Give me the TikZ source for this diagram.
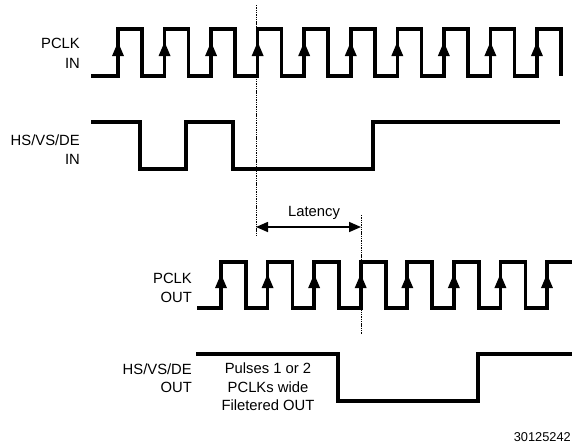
\documentclass[tikz,border=0pt]{standalone}
\usepackage{fontspec}
\setmainfont{Liberation Sans}
\usetikzlibrary{arrows.meta}
\begin{document}
\begin{tikzpicture}[x=1pt,y=-1pt,
  wave/.style={line width=3.6pt,line join=miter,black},
  guide/.style={line width=0.9pt,dash pattern=on 1.4pt off 0.9pt},
  lbl/.style={inner sep=0pt,anchor=east,font=\fontsize{14.8}{18}\selectfont},
  txt/.style={inner sep=0pt,font=\fontsize{14.8}{18.5}\selectfont},
  rise/.style={fill=black}]
\useasboundingbox (0,0) rectangle (573,445);
% PCLK IN
\draw[wave] (91,76) \foreach \i in {0,...,9} { -- ({118+46.55*\i},76) -- ({118+46.55*\i},29) -- ({142+46.55*\i},29) -- ({142+46.55*\i},76) };
\foreach \i in {0,...,9} \fill[rise] ({118+46.55*\i-6},56) -- ({118+46.55*\i+6},56) -- ({118+46.55*\i},42) -- cycle;
\node[lbl] (pclkin1) at (80,43) {PCLK};
\node[lbl] (pclkin2) at (80,63) {IN};
% HS IN
\draw[wave] (91,122) -- (140,122) -- (140,169) -- (186,169) -- (186,122) -- (233,122) -- (233,169) -- (373,169) -- (373,122) -- (560,122);
\node[lbl] (hsin1) at (80,140) {HS/VS/DE};
\node[lbl] (hsin2) at (80,159) {IN};
% PCLK OUT
\draw[wave] (197,308) \foreach \i in {0,...,6} { -- ({221+46.57*\i},308) -- ({221+46.57*\i},262) -- ({246+46.57*\i},262) -- ({246+46.57*\i},308) } -- (547,308) -- (547,262) -- (572,262);
\foreach \i in {0,...,7} \fill[rise] ({221+46.57*\i-6},288) -- ({221+46.57*\i+6},288) -- ({221+46.57*\i},274) -- cycle;
\node[lbl] (pclkout1) at (192,278) {PCLK};
\node[lbl] (pclkout2) at (192,297) {OUT};
% HS OUT
\draw[wave] (196,354) -- (338,354) -- (338,401) -- (478,401) -- (478,354) -- (572,354);
\node[lbl] (hsout1) at (192,369) {HS/VS/DE};
\node[lbl] (hsout2) at (192,387) {OUT};
\node[txt,align=center] (note) at (268,387) {Pulses 1 or 2\\PCLKs wide\\Filetered OUT};
% guides
\coordinate (g1top) at (256,5);
\coordinate (g1bot) at (256,237);
\coordinate (g2top) at (361,215);
\coordinate (g2bot) at (361,334);
\draw[guide] (g1top) -- (g1bot);
\draw[guide] (g2top) -- (g2bot);
\coordinate (la) at (256,227);
\coordinate (lb) at (361,227);
\draw[line width=1.6pt,{Triangle[length=12pt,width=10pt]}-{Triangle[length=12pt,width=10pt]}] (la) -- (lb);
\node[txt] (lat) at (314,213) {Latency};
\node[inner sep=0pt,anchor=east,font=\fontsize{12.8}{15}\selectfont] (fig) at (571,437) {30125242};
\end{tikzpicture}
\end{document}
